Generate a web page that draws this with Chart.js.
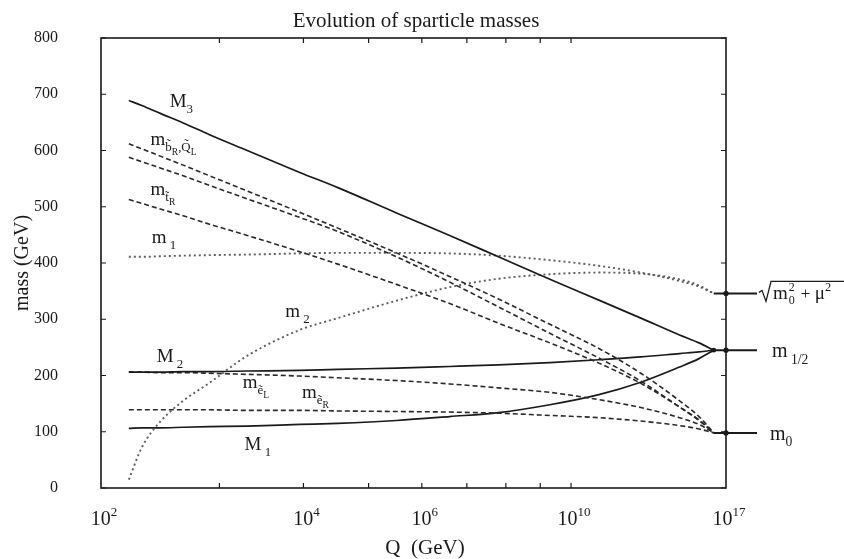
<!DOCTYPE html>
<html>
<head>
<meta charset="utf-8">
<script src="https://cdn.jsdelivr.net/npm/chart.js@4.4.1/dist/chart.umd.min.js"></script>
<style>
  html, body { margin: 0; padding: 0; background: #fff; }
  #wrap { width: 844px; height: 559px; }
</style>
</head>
<body>
<div id="wrap"><canvas id="c"></canvas></div>
<script>
// x: log10(Q / GeV), axis is logarithmic in this quantity
const logQ = [2.2, 2.3, 2.45, 2.65, 2.9, 3.3, 3.95, 4.5, 5.5, 6.6, 7.8, 9.3, 11, 12.7, 14.5, 15.5, 16.3];

// masses in GeV
const M3    = [689, 680, 666, 649, 628, 600, 561, 534, 489, 449, 411, 371, 334, 302, 272, 258, 245];
const sqA   = [612, 603, 590, 574, 555, 528, 490, 462, 418, 376, 336, 291, 248, 204, 155, 127, 98];
const sqB   = [588, 580, 569, 555, 538, 514, 481, 456, 411, 366, 322, 275, 231, 190, 144, 120, 98];
const stopR = [513, 506, 496, 484, 469, 449, 420, 398, 362, 328, 293, 258, 222, 186, 144, 121, 98];
const m1    = [411, 411, 412, 413, 414, 415, 417, 418, 418, 417, 413, 405, 395, 383, 368, 358, 346];
const m2    = [15, 72, 118, 155, 187, 235, 281, 302, 333, 357, 372, 380, 383, 381, 371, 360, 346];
const M2    = [206, 206, 206, 207, 207, 208, 209, 211, 213, 216, 219, 223, 228, 233, 239, 242, 245];
const selL  = [206, 206, 205, 205, 204, 202, 199, 196, 191, 185, 178, 170, 157, 143, 125, 113, 98];
const selR  = [139, 139, 139, 139, 139, 138, 138, 137, 136, 135, 133, 129, 125, 119, 111, 105, 98];
const M1    = [106, 107, 107, 108, 109, 110, 113, 115, 120, 127, 134, 148, 166, 188, 215, 230, 245];

// boundary values at the GUT scale
const mHalf = 245;
const m0 = 98;
const mHiggs = 346;

// axis ticks
const yTicks = [0, 100, 200, 300, 400, 500, 600, 700, 800];
const xMinorTicks = [3, 4, 5, 6, 7, 8, 9, 10];
const xTickLabels = [2, 4, 6, 10, 17];

// curve labels: [logQ, mass, parts]
const curveLabels = [
  [2.53, 677, [['M', 'n'], ['3', 'sub']]],
  [2.37, 610, [['m', 'n'], ['b\u0303', 'sub'], ['R', 'ss'], [',Q\u0303', 'sub'], ['L', 'ss']]],
  [2.37, 521, [['m', 'n'], ['t\u0303', 'sub'], ['R', 'ss']]],
  [2.38, 436, [['m', 'n'], [' 1', 'sub']]],
  [3.76, 304, [['m', 'n'], [' 2', 'sub']]],
  [2.42, 224, [['M', 'n'], [' 2', 'sub']]],
  [3.25, 178, [['m', 'n'], ['e\u0303', 'sub'], ['L', 'ss']]],
  [3.98, 160, [['m', 'n'], ['e\u0303', 'sub'], ['R', 'ss']]],
  [3.27, 68,  [['M', 'n'], [' 1', 'sub']]]
];

const serif = '"Liberation Serif", "DejaVu Serif", serif';
const ink = '#1a1a1a';

function rich(ctx, x, y, parts, size) {
  let cx = x;
  for (const [t, k] of parts) {
    let s = size, dy = 0;
    if (k === 'sub') { s = size * 0.68; dy = size * 0.32; }
    if (k === 'ss')  { s = size * 0.5;  dy = size * 0.55; }
    if (k === 'sup') { s = size * 0.65; dy = -size * 0.45; }
    ctx.font = s + 'px ' + serif;
    ctx.fillText(t, cx, y + dy);
    cx += ctx.measureText(t).width;
  }
  return cx;
}

function series(vals) {
  return logQ.map((q, i) => ({ x: q, y: vals[i] }));
}

function line(vals, style) {
  const ds = {
    data: series(vals),
    borderColor: ink,
    borderWidth: 1.7,
    pointRadius: 0,
    fill: false,
    cubicInterpolationMode: 'monotone'
  };
  if (style === 'dash') { ds.borderDash = [5, 3]; ds.borderColor = '#2a2a2a'; ds.borderWidth = 1.6; }
  if (style === 'dot')  { ds.borderDash = [2, 3]; ds.borderColor = '#5e5e5e'; ds.borderWidth = 1.9; }
  return ds;
}

const decor = {
  id: 'decor',
  afterDraw(chart) {
    const ctx = chart.ctx;
    const a = chart.chartArea;
    const xs = chart.scales.x, ys = chart.scales.y;
    ctx.save();
    ctx.strokeStyle = ink;
    ctx.fillStyle = ink;

    // frame
    ctx.lineWidth = 1.6;
    ctx.strokeRect(a.left, a.top, a.right - a.left, a.bottom - a.top);

    // inward ticks
    ctx.lineWidth = 1.2;
    ctx.beginPath();
    yTicks.forEach(v => {
      const py = ys.getPixelForValue(v);
      ctx.moveTo(a.left, py); ctx.lineTo(a.left + 5, py);
      ctx.moveTo(a.right, py); ctx.lineTo(a.right - 5, py);
    });
    xMinorTicks.forEach(v => {
      const px = xs.getPixelForValue(v);
      ctx.moveTo(px, a.bottom); ctx.lineTo(px, a.bottom - 5);
      ctx.moveTo(px, a.top); ctx.lineTo(px, a.top + 5);
    });
    ctx.stroke();

    // x tick labels 10^n
    ctx.textBaseline = 'alphabetic';
    xTickLabels.forEach(e => {
      const px = xs.getPixelForValue(e);
      ctx.font = '20px ' + serif;
      const w1 = ctx.measureText('10').width;
      ctx.font = '13px ' + serif;
      const w2 = ctx.measureText(String(e)).width;
      const x0 = px + 3 - (w1 + w2) / 2;
      rich(ctx, x0, 525, [['10', 'n'], [String(e), 'sup']], 20);
    });

    // x title
    ctx.font = '21px ' + serif;
    ctx.textAlign = 'center';
    ctx.fillText('Q  (GeV)', 425, 554);

    // chart title
    ctx.font = '21px ' + serif;
    ctx.fillText('Evolution of sparticle masses', 416, 27);
    ctx.textAlign = 'left';

    // curve labels
    curveLabels.forEach(([q, m, parts]) => {
      rich(ctx, xs.getPixelForValue(q), ys.getPixelForValue(m), parts, 19);
    });

    // boundary conditions on the right
    const xEnd = xs.getPixelForValue(logQ[logQ.length - 1]);
    const xStub = a.right + 31;
    ctx.lineWidth = 2;
    [mHiggs, mHalf, m0].forEach(v => {
      const py = ys.getPixelForValue(v);
      ctx.beginPath();
      ctx.moveTo(xEnd, py); ctx.lineTo(xStub, py);
      ctx.stroke();
      ctx.beginPath();
      ctx.arc(a.right, py, 2.6, 0, Math.PI * 2);
      ctx.fill();
    });
    const pyHalf = ys.getPixelForValue(mHalf);
    ctx.beginPath();
    ctx.arc(xEnd, pyHalf, 2.4, 0, Math.PI * 2);
    ctx.fill();

    // sqrt(m0^2 + mu^2)
    const pyH = ys.getPixelForValue(mHiggs);
    const bx = a.right + 33;
    const by = pyH + 6;
    ctx.lineWidth = 1.3;
    ctx.beginPath();
    ctx.moveTo(bx, by - 7);
    ctx.lineTo(bx + 3, by - 9);
    ctx.lineTo(bx + 7, by + 2);
    ctx.lineTo(bx + 12, by - 18);
    ctx.lineTo(844, by - 18);
    ctx.stroke();
    let cx = rich(ctx, bx + 14, by, [['m', 'n']], 19);
    ctx.font = '12px ' + serif;
    ctx.fillText('2', cx + 1, by - 8);
    ctx.fillText('0', cx + 1, by + 5);
    cx += 9;
    ctx.font = '17px ' + serif;
    ctx.fillText('+', cx + 4, by);
    cx = rich(ctx, cx + 18, by, [['\u03bc', 'n'], ['2', 'sup']], 19);

    // m_1/2 and m_0
    rich(ctx, a.right + 46, pyHalf + 7, [['m', 'n'], [' 1/2', 'sub']], 20);
    rich(ctx, a.right + 44, ys.getPixelForValue(m0) + 7, [['m', 'n'], ['0', 'sub']], 20);

    ctx.restore();
  }
};

new Chart(document.getElementById('c'), {
  type: 'line',
  data: {
    datasets: [
      line(M3, 'solid'),
      line(sqA, 'dash'),
      line(sqB, 'dash'),
      line(stopR, 'dash'),
      line(m1, 'dot'),
      line(m2, 'dot'),
      line(M2, 'solid'),
      line(selL, 'dash'),
      line(selR, 'dash'),
      line(M1, 'solid')
    ]
  },
  options: {
    responsive: true,
    maintainAspectRatio: false,
    animation: false,
    layout: { padding: { top: 38, right: 118, left: 0, bottom: 0 } },
    plugins: {
      legend: { display: false },
      tooltip: { enabled: false },
      title: { display: false }
    },
    scales: {
      x: {
        type: 'logarithmic',
        min: 2,
        max: 17,
        grid: { display: false, drawTicks: false },
        border: { display: false },
        ticks: { display: false },
        afterFit: s => { s.height = 71; s.paddingLeft = 0; s.paddingRight = 0; }
      },
      y: {
        min: 0,
        max: 800,
        grid: { display: false, drawTicks: false },
        border: { display: false },
        ticks: {
          stepSize: 100,
          padding: 43,
          color: ink,
          font: { family: serif, size: 16 }
        },
        title: {
          display: true,
          text: 'mass (GeV)',
          color: ink,
          font: { family: serif, size: 20 },
          padding: { top: 11, bottom: 0 }
        },
        afterFit: s => { s.width = 101; s.paddingTop = 0; s.paddingBottom = 0; }
      }
    }
  },
  plugins: [decor]
});
</script>
</body>
</html>
